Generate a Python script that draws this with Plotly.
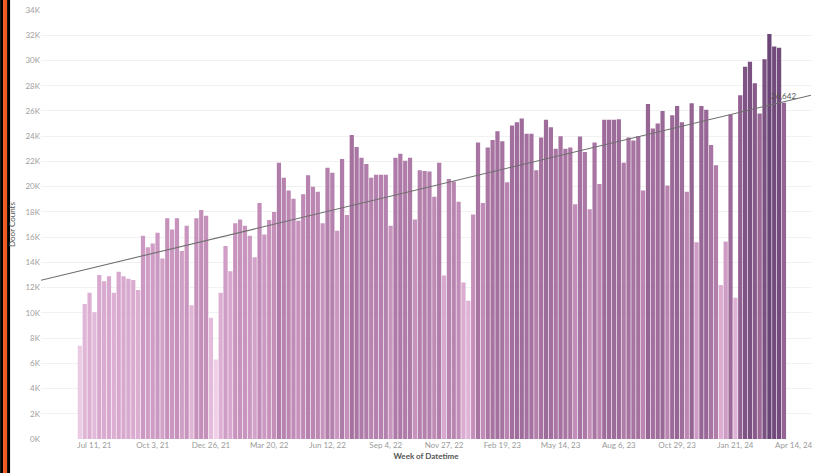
import numpy as np
import pandas as pd
import plotly.graph_objects as go

# ---- data (weekly door counts) ----
start_week = "2021-06-20"
door_counts = [
    7400, 10700, 11600, 10050, 13000, 12500, 12900, 11600, 13250, 12900,
    12700, 12600, 11800, 16100, 15200, 15500, 16350, 14300, 17500, 16600,
    17500, 14900, 16900, 10600, 17500, 18150, 17700, 9600, 6300, 11600,
    15300, 13300, 17100, 17400, 16900, 16100, 14400, 18700, 16200, 17350,
    18000, 21900, 20700, 19700, 19050, 17300, 19400, 20900, 20000, 19600,
    17100, 21500, 21100, 16500, 22200, 17750, 24100, 23150, 22300, 21800,
    20700, 20950, 20950, 20950, 16900, 22300, 22600, 22050, 22300, 17400,
    21300, 21250, 21200, 19200, 21900, 12950, 20600, 20400, 18800, 12400,
    10950, 17800, 23500, 18700, 23100, 23700, 24400, 23600, 20350, 24850,
    25100, 25400, 24200, 24200, 21300, 23900, 25300, 24700, 23000, 24000,
    23000, 23100, 18600, 23970, 22750, 18200, 23500, 20200, 25300, 25300,
    25300, 25350, 21900, 23900, 23650, 24000, 19700, 26550, 24600, 25000,
    26000, 20100, 25650, 26400, 25100, 19600, 26600, 15600, 26400, 26100,
    23300, 21700, 12200, 15650, 25700, 11200, 27250, 29500, 29900, 28200,
    25800, 30100, 32100, 31100, 31000, 26642,
]
tick_dates = ["2021-07-11", "2021-10-03", "2021-12-26", "2022-03-20", "2022-06-12",
              "2022-09-04", "2022-11-27", "2023-02-19", "2023-05-14", "2023-08-06",
              "2023-10-29", "2024-01-21", "2024-04-14"]
tick_labels = ["Jul 11, 21", "Oct 3, 21", "Dec 26, 21", "Mar 20, 22", "Jun 12, 22",
               "Sep 4, 22", "Nov 27, 22", "Feb 19, 23", "May 14, 23", "Aug 6, 23",
               "Oct 29, 23", "Jan 21, 24", "Apr 14, 24"]
y_ticks = list(range(0, 34001, 2000))
y_tick_labels = [f"{v // 1000}K" for v in y_ticks]

weeks = pd.date_range(start_week, periods=len(door_counts), freq="7D")
vals = np.array(door_counts, dtype=float)

x_range = [pd.Timestamp("2021-04-25"), pd.Timestamp("2024-05-09")]

# linear trend (fit over week index)
idx = (weeks - weeks[0]).days / 7.0
slope, intercept = np.polyfit(idx, vals, 1)
r_idx = np.array([(d - weeks[0]).days / 7.0 for d in x_range])
trend_y = slope * r_idx + intercept

colorscale = [
    [0.0, "#f0d2e9"],
    [0.25, "#daabd0"],
    [0.5, "#c08bb6"],
    [0.75, "#9d6b9a"],
    [1.0, "#6b4577"],
]

fig = go.Figure()
fig.add_trace(go.Bar(
    x=weeks, y=vals,
    marker=dict(color=vals, colorscale=colorscale, cmin=6000, cmax=32000,
                line=dict(width=0)),
    showlegend=False,
))
fig.add_trace(go.Scatter(
    x=x_range, y=trend_y, mode="lines",
    line=dict(color="#6e6e6e", width=1.1),
    showlegend=False,
))

fig.add_annotation(
    x=weeks[-1], y=vals[-1], text=f"{int(vals[-1]):,}",
    showarrow=False, yanchor="bottom", xanchor="center",
    font=dict(size=8, color="#555555", family="Lato"),
)

W, H = 813, 473
ml, mr, mt, mb = 41, 0, 10, 34
pw = W - ml - mr


def px_to_paper(px):
    return (px - ml) / pw


# left decorative border strips
for x0, x1, col in [(0, 3, "#000000"), (3, 7, "#f05a1e"), (7, 10, "#000000")]:
    fig.add_shape(type="rect", xref="paper", yref="paper",
                  x0=px_to_paper(x0), x1=px_to_paper(x1), y0=-1, y1=2,
                  fillcolor=col, line=dict(width=0))

fig.update_layout(
    width=W, height=H,
    margin=dict(l=ml, r=mr, t=mt, b=mb),
    paper_bgcolor="white", plot_bgcolor="white",
    bargap=0.13,
    font=dict(family="Lato", size=8, color="#999999"),
    xaxis=dict(
        type="date", range=x_range,
        tickmode="array", tickvals=tick_dates, ticktext=tick_labels,
        showgrid=False, zeroline=False, showline=False, ticks="",
        ticklabeloverflow="allow",
        tickfont=dict(size=8, color="#9a9a9a"),
        title=dict(text="<b>Week of Datetime</b>", standoff=4,
                   font=dict(size=8, color="#555555")),
    ),
    yaxis=dict(
        range=[0, 34000],
        tickmode="array", tickvals=y_ticks, ticktext=y_tick_labels,
        showgrid=True, gridcolor="#f1f1f1", gridwidth=1,
        zeroline=False, showline=False, ticks="",
        tickfont=dict(size=8, color="#a0a0a0"),
        title=dict(text="Door Counts", standoff=8,
                   font=dict(size=8, color="#555555")),
    ),
)

fig.write_html("out.html", config={"displayModeBar": False},
               post_script="document.body.style.margin='0px';")
